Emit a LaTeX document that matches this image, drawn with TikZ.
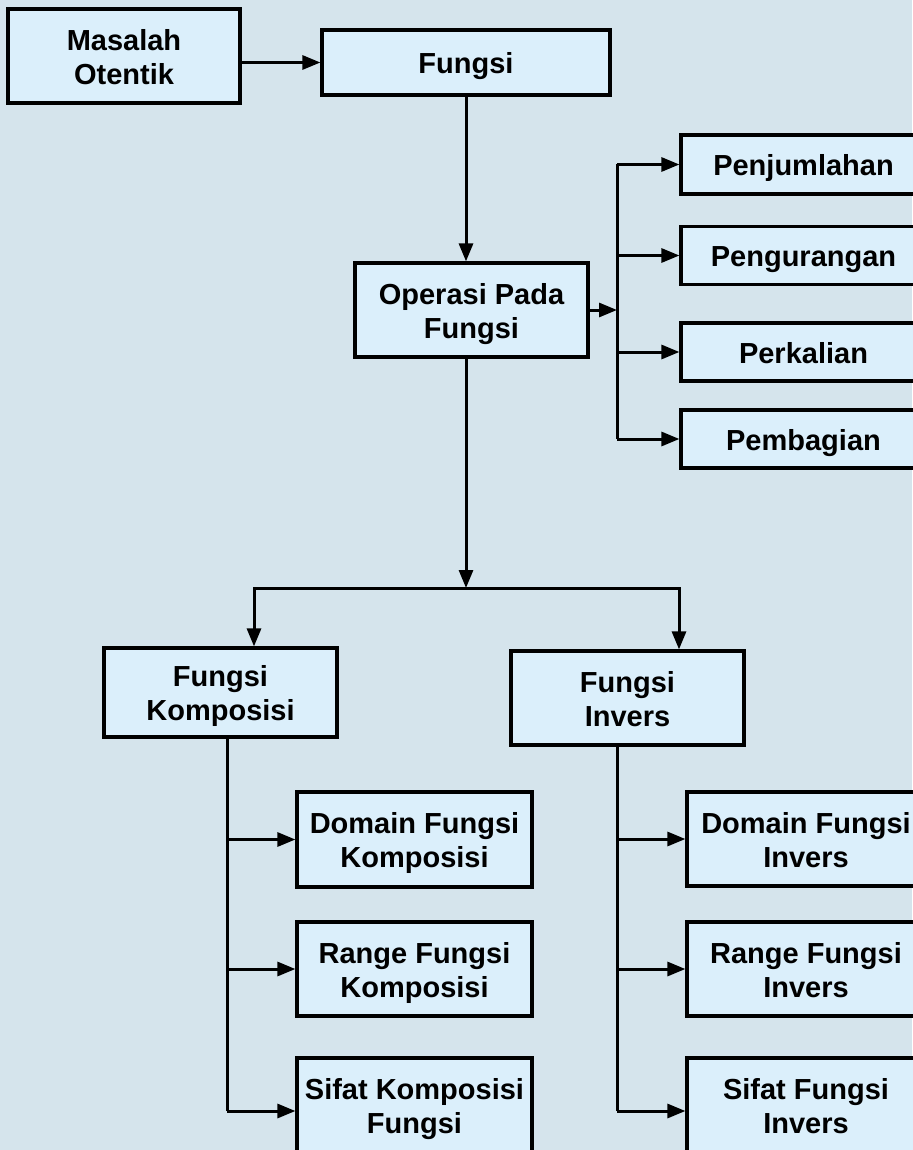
\documentclass[tikz,border=0pt]{standalone}
\usepackage{fontspec}
\setmainfont{Liberation Sans}
\usetikzlibrary{arrows.meta}
\definecolor{bgcol}{HTML}{D5E4EC}
\definecolor{boxfill}{HTML}{DBEFFB}
\newcommand{\btext}[1]{\raisebox{-4.5pt}[\height][\depth]{\begin{tabular}{@{}c@{}}#1\end{tabular}}}
\begin{document}
\begin{tikzpicture}[x=1pt,y=-1pt,
  cbox/.style={draw=black, line width=3.2pt, fill=boxfill,
    font=\fontsize{29}{34}\selectfont\bfseries, inner sep=0pt},
  conn/.style={draw=black, line width=3pt},
  arr/.style={conn, -{Triangle[length=18pt,width=14pt]}}]
\fill[bgcol] (0,0) rectangle (912,1150);
\useasboundingbox (0,0) rectangle (912,1150);
% nodes
\node[cbox, minimum width=232pt, minimum height=94pt] (mas) at (124,56) {\btext{Masalah\\Otentik}};
\node[cbox, minimum width=288pt, minimum height=65pt] (fun) at (466,62.5) {\btext{Fungsi}};
\node[cbox, minimum width=233pt, minimum height=94pt] (op) at (471.5,310) {\btext{Operasi Pada\\Fungsi}};
\node[cbox, minimum width=245pt, minimum height=59pt] (pj) at (803.5,164.5) {\btext{Penjumlahan}};
\node[cbox, minimum width=245pt, minimum height=58pt] (pg) at (803.5,255.5) {\btext{Pengurangan}};
\node[cbox, minimum width=245pt, minimum height=58pt] (pk) at (803.5,352) {\btext{Perkalian}};
\node[cbox, minimum width=245pt, minimum height=58pt] (pb) at (803.5,439) {\btext{Pembagian}};
\node[cbox, minimum width=233pt, minimum height=89pt] (fk) at (220.5,692.5) {\btext{Fungsi\\Komposisi}};
\node[cbox, minimum width=233pt, minimum height=94pt] (fi) at (627.5,698) {\btext{Fungsi\\Invers}};
\node[cbox, minimum width=235pt, minimum height=95pt] (dk) at (414.5,839.5) {\btext{Domain Fungsi\\Komposisi}};
\node[cbox, minimum width=235pt, minimum height=94pt] (rk) at (414.5,969) {\btext{Range Fungsi\\Komposisi}};
\node[cbox, minimum width=235pt, minimum height=94pt] (sk) at (414.5,1105) {\btext{Sifat Komposisi\\Fungsi}};
\node[cbox, minimum width=238pt, minimum height=94pt] (di) at (806,839) {\btext{Domain Fungsi\\Invers}};
\node[cbox, minimum width=238pt, minimum height=94pt] (ri) at (806,969) {\btext{Range Fungsi\\Invers}};
\node[cbox, minimum width=238pt, minimum height=94pt] (si) at (806,1105) {\btext{Sifat Fungsi\\Invers}};
% helper coordinates
\coordinate (jr) at (617,0);
\coordinate (jb) at (0,588);
\coordinate (kx) at (254,0);
\coordinate (ix) at (679,0);
\coordinate (lx) at (227,0);
\coordinate (rx) at (617,0);
% connectors
\draw[arr] (mas.east |- fun.west) -- (fun.west);
\draw[arr] (fun.south) -- (fun.south |- op.north);
\draw[arr] (op.east) -- (op.east -| jr);
\draw[conn] (pj.west -| jr) -- (pb.west -| jr);
\draw[arr] (pj.west -| jr) -- (pj.west);
\draw[arr] (pg.west -| jr) -- (pg.west);
\draw[arr] (pk.west -| jr) -- (pk.west);
\draw[arr] (pb.west -| jr) -- (pb.west);
\draw[arr] (op.south -| fun.south) -- (jb -| fun.south);
\draw[arr] (jb -| fun.south) -- (jb -| kx) -- (fk.north -| kx);
\draw[arr] (jb -| fun.south) -- (jb -| ix) -- (fi.north -| ix);
\draw[conn] (fk.south -| lx) -- ([yshift=-6pt]sk.west -| lx);
\draw[arr] (dk.west -| lx) -- (dk.west);
\draw[arr] (rk.west -| lx) -- (rk.west);
\draw[arr] ([yshift=-6pt]sk.west -| lx) -- ([yshift=-6pt]sk.west);
\draw[conn] (fi.south -| rx) -- ([yshift=-6pt]si.west -| rx);
\draw[arr] (di.west -| rx) -- (di.west);
\draw[arr] (ri.west -| rx) -- (ri.west);
\draw[arr] ([yshift=-6pt]si.west -| rx) -- ([yshift=-6pt]si.west);
\end{tikzpicture}
\end{document}
